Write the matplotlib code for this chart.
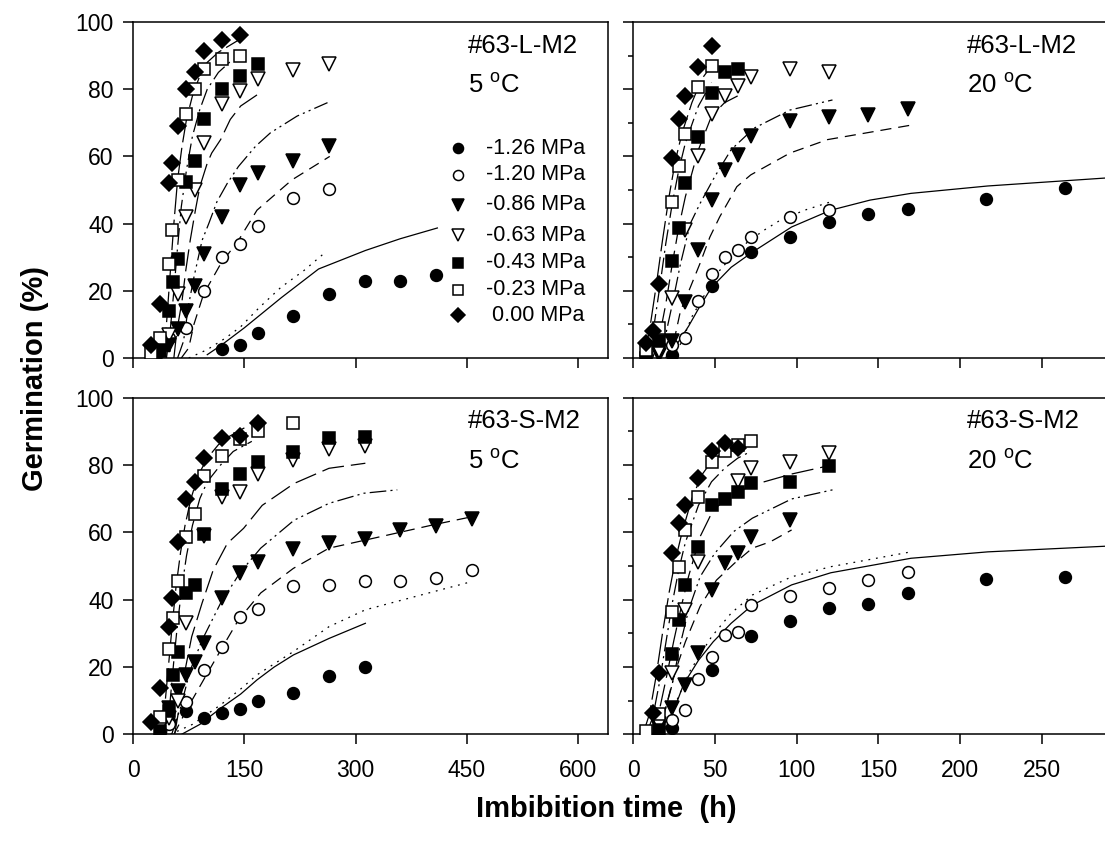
import matplotlib

matplotlib.use("Agg")
import matplotlib.pyplot as plt
from matplotlib.ticker import MultipleLocator

plt.rcParams["font.family"] = ["Liberation Sans", "DejaVu Sans"]
plt.rcParams["mathtext.fontset"] = "custom"
plt.rcParams["mathtext.rm"] = "Liberation Sans"
plt.rcParams["lines.scale_dashes"] = False

LEVELS = ["-1.26 MPa", "-1.20 MPa", "-0.86 MPa", "-0.63 MPa", "-0.43 MPa", "-0.23 MPa", " 0.00 MPa"]

# observed germination, seed lot L at 5 C
L5_OBS_T = [
    [120, 144, 168, 216, 264, 312, 360, 408],
    [48, 72, 96, 120, 144, 168, 216, 264],
    [36, 48, 60, 72, 84, 96, 120, 144, 168, 216, 264],
    [36, 48, 60, 72, 84, 96, 120, 144, 168, 216, 264],
    [36, 42, 48, 54, 60, 72, 84, 96, 120, 144, 168],
    [24, 36, 48, 52, 60, 72, 84, 96, 120, 144],
    [24, 36, 48, 52, 60, 72, 84, 96, 120, 144],
]
L5_OBS_G = [
    [2.7, 3.9, 7.5, 12.6, 19, 22.9, 22.9, 24.7],
    [6, 9, 20, 30, 34, 39.3, 47.7, 50.3],
    [1, 4, 8.5, 14, 21.5, 31, 42, 51.5, 55, 58.5, 63],
    [2, 7, 19, 42, 50, 64, 75.5, 79.5, 83, 85.7, 87.5],
    [2, 4, 14, 22.5, 29.5, 52.5, 58.5, 71, 80, 84, 87.5],
    [1.5, 6, 28, 38, 53, 72.5, 80, 86, 89, 90],
    [4, 16, 52, 58, 69, 80, 85, 91.5, 94.5, 96],
]
L5_FIT_T = [
    [100, 120, 150, 200, 250, 313, 360, 410],
    [75, 100, 125, 145, 170, 199, 230, 255],
    [65, 75, 82, 95, 118, 142, 167, 214, 265],
    [60, 68, 75, 82, 93, 102, 113, 127, 142, 165, 185, 221, 262],
    [55, 59, 66, 71, 77, 84, 90, 100, 106, 118, 131, 145, 167],
    [45, 50, 55, 60, 65, 72, 80, 90, 100, 115, 130, 145],
    [40, 45, 50, 55, 60, 66, 72, 80, 90, 100, 115, 130, 145],
]
L5_FIT_G = [
    [1, 4, 9, 18, 26.5, 32, 35.5, 38.7],
    [0, 2.5, 6, 9.3, 15, 21, 26, 30.7],
    [0, 3, 10, 19, 28, 35, 44, 53, 60],
    [0, 5, 16, 24, 35, 40, 46.5, 52, 57, 63, 67, 72, 76],
    [0, 8, 17, 26, 35, 44, 51, 58, 61, 65, 71, 75, 78.3],
    [0, 8, 20, 33, 45, 56, 66, 74, 80, 85, 88, 90],
    [0, 10, 25, 40, 53, 63, 71, 78, 84, 88, 91, 93, 95],
]

# seed lot L at 20 C
L20_OBS_T = [
    [24, 48, 72, 96, 120, 144, 168, 216, 264],
    [24, 32, 40, 48, 56, 64, 72, 96, 120],
    [16, 24, 32, 40, 48, 56, 64, 72, 96, 120, 144, 168],
    [16, 24, 32, 40, 48, 56, 64, 72, 96, 120],
    [8, 16, 24, 28, 32, 40, 48, 56, 64],
    [8, 16, 24, 28, 32, 40, 48],
    [8, 12, 16, 24, 28, 32, 40, 48],
]
L20_OBS_G = [
    [1, 21.5, 31.5, 36, 40.6, 43, 44.3, 47.3, 50.5],
    [4, 6, 17, 25, 30, 32, 36, 42, 44],
    [1, 5, 16.7, 32.2, 47, 56, 60.4, 66.2, 70.5, 71.6, 72.3, 74],
    [2, 18, 38, 60, 72.5, 78, 81, 83.5, 86, 85],
    [0, 5, 29, 38.6, 52, 65.7, 79, 85, 86],
    [2.4, 9, 46.5, 57, 66.7, 80.7, 87],
    [4.4, 8, 22, 59.5, 71, 78, 86.5, 93],
]
L20_FIT_T = [
    [22, 28, 34, 41, 48, 60, 73, 97, 121, 145, 170, 217, 290],
    [24, 30, 36, 44, 52, 60, 70, 80, 90, 105, 121],
    [20, 25, 29, 35, 41, 47, 53, 63.5, 72, 96, 119, 170],
    [16, 20, 24, 29, 35, 41, 50, 60, 74, 96, 122],
    [12, 16, 20, 24, 28, 32, 40, 48, 56, 64],
    [8, 12, 16, 20, 24, 28, 32, 40, 48],
    [6, 10, 14, 18, 22, 26, 30, 36, 42, 48],
]
L20_FIT_G = [
    [0, 5, 9.5, 15.5, 21, 27, 31.5, 39, 44, 47, 49, 51.2, 53.6],
    [0, 5, 12.3, 19, 25.5, 30, 34.5, 38, 41, 44, 46.5],
    [0, 5, 14, 21, 28.2, 36, 42, 51, 54.5, 61, 65, 69.3],
    [0, 7, 16, 28, 40, 46, 54, 62, 68.4, 73.8, 76.8],
    [0, 6, 16, 28, 39, 48, 62, 72, 76, 78],
    [0, 7, 20, 34, 46, 56, 64, 75, 82],
    [0, 8, 21, 35, 48, 59, 67, 76, 83, 87],
]

# seed lot S at 5 C
S5_OBS_T = [
    [48, 72, 96, 120, 144, 168, 216, 264, 312],
    [48, 72, 96, 120, 144, 168, 216, 264, 312, 360, 408, 456],
    [36, 48, 60, 72, 84, 96, 120, 144, 168, 216, 264, 312, 360, 408, 456],
    [36, 48, 60, 72, 96, 120, 144, 168, 216, 264, 312],
    [36, 48, 54, 60, 72, 84, 96, 120, 144, 168, 216, 264, 312],
    [36, 48, 54, 60, 72, 84, 96, 120, 144, 168, 216],
    [24, 36, 48, 52, 60, 72, 84, 96, 120, 144, 168],
]
S5_OBS_G = [
    [4, 7, 5, 6.5, 7.7, 10, 12.3, 17.3, 20],
    [3, 9.7, 19, 26, 35, 37.3, 44, 44.3, 45.6, 45.6, 46.4, 48.7],
    [2, 8, 13, 17.7, 21.6, 27.3, 40.4, 48, 51.3, 55, 56.7, 58, 60.7, 62, 64],
    [2, 5, 10, 33, 59, 70.6, 72, 77.2, 81.5, 84.6, 85.6],
    [1, 7, 17.7, 24.6, 42, 44.4, 59.4, 73, 77.3, 81, 83.7, 88, 88.2],
    [5.3, 25.5, 34.5, 45.5, 58.5, 65.5, 76.7, 82.6, 87.6, 90, 92.3],
    [3.8, 13.7, 31.8, 40.4, 57, 70, 75, 82, 88, 88.6, 92.5],
]
S5_FIT_T = [
    [65, 90, 118, 145, 167, 190, 216, 264, 313],
    [50, 80, 118, 145, 167, 216, 264, 313, 388, 455],
    [55, 72, 95, 118, 142, 172, 216, 264, 313, 406, 456],
    [52, 64, 77, 93, 118, 145, 172, 217, 264, 311, 356],
    [56, 63, 70, 79, 93, 108, 127, 149, 174, 217, 264, 313],
    [45, 50, 55, 60, 66, 72, 80, 90, 100, 118, 135, 160],
    [38, 43, 48, 53, 58, 64, 70, 78, 88, 100, 115, 130, 150],
]
S5_FIT_G = [
    [0, 3, 7.8, 12, 16.2, 20, 23.6, 28.5, 33],
    [0, 3, 8.8, 13.5, 17.7, 24.6, 32, 37, 41.4, 45.3],
    [0, 7.3, 16.2, 25, 34, 42, 49.3, 55.3, 57.7, 62.3, 64.6],
    [0, 8, 19, 28, 39, 48.3, 55.3, 63.6, 68.6, 71.6, 72.6],
    [0, 9, 19, 29, 39, 48.8, 56.7, 61.2, 68, 74.5, 79, 80.5],
    [0, 10, 22, 33, 44, 53, 62, 70, 75, 80, 84, 87],
    [0, 9, 21, 33, 44, 54, 62, 70, 77, 82, 86, 88.5, 91],
]

# seed lot S at 20 C
S20_OBS_T = [
    [24, 48, 72, 96, 120, 144, 168, 216, 264],
    [24, 32, 40, 48, 56, 64, 72, 96, 120, 144, 168],
    [16, 24, 32, 40, 48, 56, 64, 72, 96],
    [16, 24, 32, 40, 64, 72, 96, 120],
    [16, 24, 28, 32, 40, 48, 56, 64, 72, 96, 120],
    [8, 16, 24, 28, 32, 40, 48, 56, 64, 72],
    [12, 16, 24, 28, 32, 40, 48, 56, 64],
]
S20_OBS_G = [
    [2, 19.1, 29.3, 33.8, 37.6, 38.7, 42, 46, 46.8],
    [4.3, 7.3, 16.4, 23, 29.5, 30.5, 38.4, 41, 43.4, 45.8, 48.3],
    [2, 7.8, 14.7, 24.3, 43, 50.8, 53.8, 58.5, 63.7],
    [3, 18.2, 37, 51.3, 75.3, 79, 81, 83.4],
    [1.3, 24, 34, 44.4, 55.7, 68, 70, 72, 74.5, 75, 79.7],
    [1, 6, 36.4, 49.7, 60.6, 70.6, 81, 84, 86, 87],
    [6.3, 18.2, 53.8, 62.7, 68, 76.2, 84, 86.5, 85],
]
S20_FIT_T = [
    [18, 24, 31, 40, 49, 60, 73, 97, 121, 170, 217, 290],
    [18, 26, 35, 48, 60, 73, 97, 121, 170],
    [16, 20, 26, 32, 41, 51, 62, 73, 84, 97],
    [14, 19, 24, 29, 34, 41, 50, 61.5, 73, 97, 122],
    [12, 16, 20, 25, 30, 34, 41, 49, 60, 73, 97, 122],
    [8, 12, 16, 20, 24, 28, 32, 40, 48, 56, 64, 72],
    [6, 10, 14, 18, 22, 26, 30, 36, 42, 48, 56, 64],
]
S20_FIT_G = [
    [0, 6, 15, 22, 27.5, 33, 38.4, 44.4, 48, 52.3, 54.2, 55.9],
    [0, 9.3, 19, 29, 36, 41.4, 46.8, 49.8, 54.2],
    [0, 8, 19, 27.5, 38, 45.8, 50.8, 55.3, 57.2, 60.7],
    [0, 6, 15, 27, 37, 46.8, 53.8, 60.2, 64.2, 69.9, 72.6],
    [0, 7, 16, 28, 39, 47, 58.7, 66.6, 71, 74, 77.3, 80],
    [0, 5, 15, 27, 39, 49, 57, 68, 75, 79, 82, 84],
    [0, 6, 17, 30, 42, 52, 60, 70, 77, 81, 84, 86],
]

MARKERS = ["o", "o", "v", "v", "s", "s", "D"]
FILLED = [True, False, True, False, True, False, True]
MSIZES = [8.5, 8.5, 9.5, 9.5, 9, 9, 8.5]
LINESTYLES = [
    "-",
    (0, (1.3, 4.2)),
    (0, (8, 5)),
    (0, (12, 3, 1.5, 3, 1.5, 3)),
    (0, (16, 5)),
    (0, (12, 3.5, 1.5, 3.5)),
    (0, (22, 4)),
]

fig = plt.figure(figsize=(11.05, 8.46), dpi=100)
ax_tl = fig.add_axes([0.1204, 0.5768, 0.4299, 0.3972])
ax_tr = fig.add_axes([0.5729, 0.5768, 0.4290, 0.3972])
ax_bl = fig.add_axes([0.1204, 0.1318, 0.4299, 0.3983])
ax_br = fig.add_axes([0.5729, 0.1318, 0.4290, 0.3983])

panels = [
    (ax_tl, L5_OBS_T, L5_OBS_G, L5_FIT_T, L5_FIT_G, "#63-L-M2", "5"),
    (ax_tr, L20_OBS_T, L20_OBS_G, L20_FIT_T, L20_FIT_G, "#63-L-M2", "20"),
    (ax_bl, S5_OBS_T, S5_OBS_G, S5_FIT_T, S5_FIT_G, "#63-S-M2", "5"),
    (ax_br, S20_OBS_T, S20_OBS_G, S20_FIT_T, S20_FIT_G, "#63-S-M2", "20"),
]

for ax, obs_t, obs_g, fit_t, fit_g, lot, temp in panels:
    for i in range(len(LEVELS)):
        ax.plot(fit_t[i], fit_g[i], color="black", lw=0.9, linestyle=LINESTYLES[i], zorder=2)
    for i in range(len(LEVELS)):
        ax.plot(
            obs_t[i], obs_g[i], linestyle="none", marker=MARKERS[i], ms=MSIZES[i],
            mfc="black" if FILLED[i] else "white", mec="black", mew=1.1, zorder=3,
        )
    ax.set_ylim(0, 100)
    ax.yaxis.set_major_locator(MultipleLocator(20))
    for side in ax.spines.values():
        side.set_linewidth(1.1)
    ax.tick_params(direction="out", length=7, width=1.1, labelsize=16.5)
    ax.tick_params(axis="x", pad=11)
    ax.tick_params(axis="y", pad=7)
    ax.text(0.705, 0.93, lot, transform=ax.transAxes, fontsize=18.5, ha="left", va="center")
    ax.text(0.705, 0.81, temp + r" $^{\mathrm{o}}$C", transform=ax.transAxes, fontsize=18.5,
            ha="left", va="center")

for ax in (ax_tl, ax_bl):
    ax.set_xlim(0, 640)
    ax.xaxis.set_major_locator(MultipleLocator(150))

for ax in (ax_tr, ax_br):
    ax.set_xlim(0, 290)
    ax.xaxis.set_major_locator(MultipleLocator(50))
    ax.yaxis.set_minor_locator(MultipleLocator(10))
    ax.tick_params(axis="y", which="minor", direction="out", length=3.5, width=1.1)
    ax.tick_params(axis="y", labelleft=False)

for ax in (ax_tl, ax_tr):
    ax.tick_params(axis="x", labelbottom=False)

# marker key in the upper left panel
key_rows = [0.625, 0.545, 0.456, 0.366, 0.283, 0.203, 0.128]
for i, label in enumerate(LEVELS):
    ax_tl.plot(0.684, key_rows[i], transform=ax_tl.transAxes, linestyle="none", marker=MARKERS[i],
               ms=MSIZES[i] * 0.85, mfc="black" if FILLED[i] else "white", mec="black", mew=1.1,
               clip_on=False)
    ax_tl.text(0.742, key_rows[i], label, transform=ax_tl.transAxes, fontsize=15.5, ha="left",
               va="center")

fig.text(0.032, 0.553, "Germination (%)", rotation=90, fontsize=21, fontweight="bold",
         ha="center", va="center")
fig.text(0.549, 0.044, "Imbibition time  (h)", fontsize=21, fontweight="bold",
         ha="center", va="center")

fig.savefig("out.png", dpi=100)
